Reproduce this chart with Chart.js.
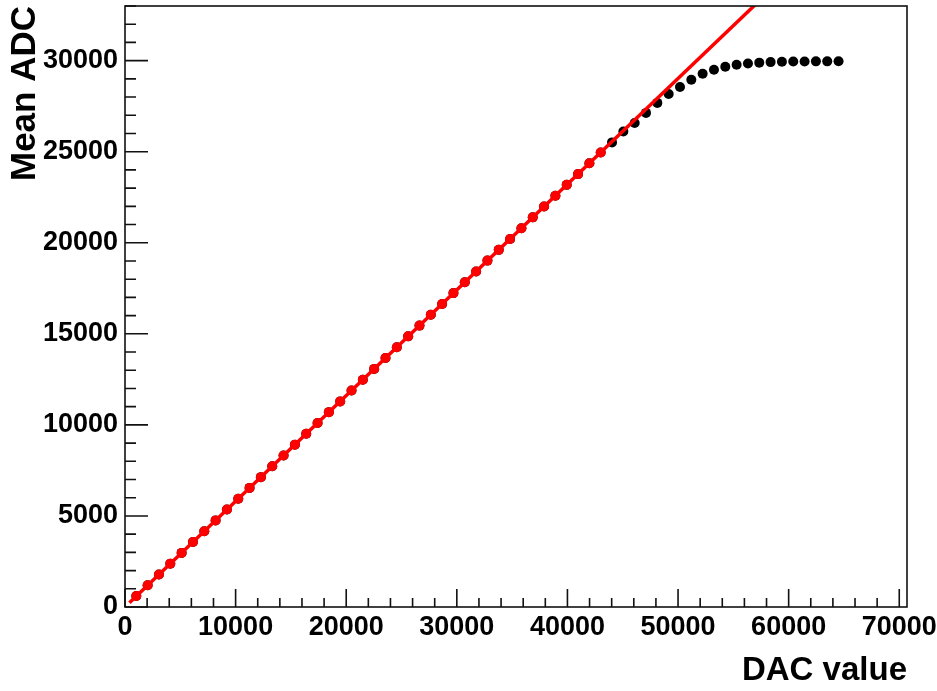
<!DOCTYPE html>
<html lang="en">
<head>
    <meta charset="UTF-8">
    <title>Mean ADC vs DAC value</title>
    <script src="https://cdn.jsdelivr.net/npm/chart.js"></script>
    <style>
        body { margin: 0; background: #fff; }
    </style>
</head>
<body>
    <canvas id="adcChart" width="937" height="691"></canvas>
    <script>
        // DAC settings scanned (1024 steps) and the measured mean ADC
        const dacValues = [
            1024, 2048, 3072, 4096, 5120, 6144, 7168, 8192, 9216, 10240,
            11264, 12288, 13312, 14336, 15360, 16384, 17408, 18432, 19456, 20480,
            21504, 22528, 23552, 24576, 25600, 26624, 27648, 28672, 29696, 30720,
            31744, 32768, 33792, 34816, 35840, 36864, 37888, 38912, 39936, 40960,
            41984, 43008, 44032, 45056, 46080, 47104, 48128, 49152, 50176, 51200,
            52224, 53248, 54272, 55296, 56320, 57344, 58368, 59392, 60416, 61440,
            62464, 63488, 64512
        ];
        const meanAdc = [
            600, 1190, 1785, 2380, 2970, 3565, 4160, 4755, 5350, 5945,
            6540, 7130, 7725, 8320, 8915, 9510, 10100, 10700, 11290, 11885,
            12480, 13075, 13670, 14265, 14860, 15450, 16045, 16640, 17235, 17830,
            18425, 19020, 19610, 20205, 20800, 21395, 21990, 22585, 23180, 23770,
            24365, 24960, 25510, 26110, 26580, 27130, 27680, 28170, 28550, 28950,
            29280, 29500, 29660, 29770, 29840, 29890, 29920, 29935, 29950, 29955,
            29960, 29960, 29965
        ];
        // points included in the linear fit (drawn red)
        const fitPoints = 42;
        // fitted straight line, two ends
        const fitX = [400, 60000];
        const fitY = [232, 34824];

        const xTicks = [0, 10000, 20000, 30000, 40000, 50000, 60000, 70000];
        const yTicks = [0, 5000, 10000, 15000, 20000, 25000, 30000];
        const xMax = 70700;
        const yMax = 33000;

        const allPts = dacValues.map((x, i) => ({ x: x, y: meanAdc[i] }));
        const fitPts = allPts.slice(0, fitPoints);
        const linePts = fitX.map((x, i) => ({ x: x, y: fitY[i] }));

        const FONT = '"Liberation Sans", Arial, Helvetica, sans-serif';

        // ROOT style frame + inward ticks
        const frameTicks = {
            id: 'frameTicks',
            afterDraw(chart) {
                const ctx = chart.ctx;
                const a = chart.chartArea;
                const xs = chart.scales.x, ys = chart.scales.y;
                ctx.save();
                ctx.strokeStyle = '#111';
                ctx.lineWidth = 1.6;
                ctx.strokeRect(a.left, a.top, a.right - a.left, a.bottom - a.top);
                ctx.beginPath();
                for (let v = 0; v <= xMax; v += 2000) {
                    const px = xs.getPixelForValue(v);
                    const len = (v % 10000 === 0) ? 18 : 9;
                    ctx.moveTo(px, a.bottom);
                    ctx.lineTo(px, a.bottom - len);
                }
                for (let v = 0; v <= yMax; v += 1000) {
                    const py = ys.getPixelForValue(v);
                    const len = (v % 5000 === 0) ? 23 : 11;
                    ctx.moveTo(a.left, py);
                    ctx.lineTo(a.left + len, py);
                }
                ctx.stroke();
                ctx.restore();
            }
        };

        const chart = new Chart(document.getElementById('adcChart'), {
            type: 'scatter',
            data: {
                datasets: [
                    {
                        label: 'all',
                        data: allPts,
                        order: 3,
                        pointRadius: 5,
                        pointBackgroundColor: '#000',
                        pointBorderColor: '#000',
                        pointBorderWidth: 0,
                        clip: false
                    },
                    {
                        label: 'fit range',
                        data: fitPts,
                        order: 2,
                        pointRadius: 5,
                        pointBackgroundColor: '#ff0000',
                        pointBorderColor: '#ff0000',
                        pointBorderWidth: 0,
                        clip: false
                    },
                    {
                        type: 'line',
                        label: 'fit',
                        data: linePts,
                        order: 1,
                        borderColor: '#ff0000',
                        borderWidth: 3.5,
                        pointRadius: 0,
                        fill: false,
                        clip: 0
                    }
                ]
            },
            options: {
                responsive: false,
                animation: false,
                layout: { padding: { top: 6, right: 30, left: 0, bottom: 0 } },
                plugins: {
                    legend: { display: false },
                    tooltip: { enabled: false }
                },
                scales: {
                    x: {
                        type: 'linear',
                        min: 0,
                        max: xMax,
                        grid: { display: false, drawTicks: false },
                        border: { display: false },
                        afterBuildTicks: s => { s.ticks = xTicks.map(v => ({ value: v })); },
                        afterFit: s => { s.height = 84; s.paddingLeft = 0; s.paddingRight = 0; },
                        ticks: {
                            padding: 4,
                            color: '#000',
                            maxRotation: 0,
                            font: { family: FONT, size: 27, weight: 'bold' },
                            callback: v => String(v)
                        },
                        title: {
                            display: true,
                            text: 'DAC value',
                            align: 'end',
                            color: '#000',
                            padding: { top: 0, bottom: 0 },
                            font: { family: FONT, size: 33, weight: 'bold' }
                        }
                    },
                    y: {
                        type: 'linear',
                        min: 0,
                        max: yMax,
                        grid: { display: false, drawTicks: false },
                        border: { display: false },
                        afterBuildTicks: s => { s.ticks = yTicks.map(v => ({ value: v })); },
                        afterFit: s => { s.width = 125; s.paddingTop = 0; s.paddingBottom = 0; },
                        ticks: {
                            padding: 7,
                            color: '#000',
                            font: { family: FONT, size: 27, weight: 'bold' },
                            callback: v => String(v)
                        },
                        title: {
                            display: true,
                            text: 'Mean ADC',
                            align: 'end',
                            color: '#000',
                            padding: { top: 4, bottom: 0 },
                            font: { family: FONT, size: 35, weight: 'bold' }
                        }
                    }
                }
            },
            plugins: [frameTicks]
        });
    </script>
</body>
</html>
